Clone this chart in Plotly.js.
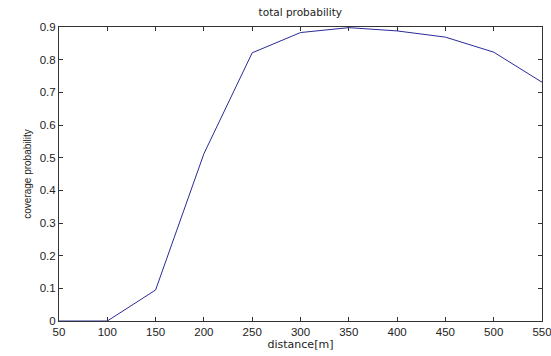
<!DOCTYPE html>
<html>
<head>
<meta charset="utf-8">
<script src="https://cdn.plot.ly/plotly-3.0.1.min.js"></script>
<style>html,body{margin:0;padding:0;background:#fff;}#chart{width:551px;height:356px;}</style>
</head>
<body>
<div id="chart"></div>
<script>
const distance = [50, 100, 150, 200, 250, 300, 350, 400, 450, 500, 550];
const coverage = [0, 0, 0.095, 0.512, 0.821, 0.883, 0.898, 0.888, 0.869, 0.823, 0.731];
const xTicks = [50, 100, 150, 200, 250, 300, 350, 400, 450, 500, 550];
const yTicks = [0, 0.1, 0.2, 0.3, 0.4, 0.5, 0.6, 0.7, 0.8, 0.9];
const yTickText = ['0', '0.1', '0.2', '0.3', '0.4', '0.5', '0.6', '0.7', '0.8', '0.9'];

const axisFont = {family: 'Arial, Liberation Sans, sans-serif', size: 11.5, color: '#222'};

Plotly.newPlot('chart', [{
  x: distance, y: coverage, type: 'scatter', mode: 'lines',
  line: {color: '#2a2a9a', width: 1}
}], {
  width: 551, height: 356,
  margin: {l: 59, r: 9, t: 27, b: 35},
  paper_bgcolor: '#fff', plot_bgcolor: '#fff',
  showlegend: false,
  title: {text: 'total probability', font: {family: 'DejaVu Sans, sans-serif', size: 10.5, color: '#222'}, x: 0.545, xanchor: 'center', y: 0.965, yanchor: 'middle'},
  xaxis: {
    range: [50, 550], tickmode: 'array', tickvals: xTicks,
    ticks: 'inside', ticklen: 4, tickcolor: '#333', tickwidth: 1,
    showline: true, linecolor: '#333', linewidth: 1, mirror: 'ticks',
    showgrid: false, zeroline: false, tickfont: axisFont, ticklabeloverflow: 'allow',
    title: {text: 'distance[m]', font: {family: 'DejaVu Sans, sans-serif', size: 11, color: '#222'}, standoff: 2}
  },
  yaxis: {
    range: [0, 0.9], tickmode: 'array', tickvals: yTicks, ticktext: yTickText,
    ticks: 'inside', ticklen: 4, tickcolor: '#333', tickwidth: 1,
    showline: true, linecolor: '#333', linewidth: 1, mirror: 'ticks',
    showgrid: false, zeroline: false, tickfont: axisFont,
    title: {text: 'coverage probability', font: {family: 'Arial, Liberation Sans, sans-serif', size: 10, color: '#222'}, standoff: 6}
  }
}, {displayModeBar: false, staticPlot: true});
</script>
</body>
</html>
